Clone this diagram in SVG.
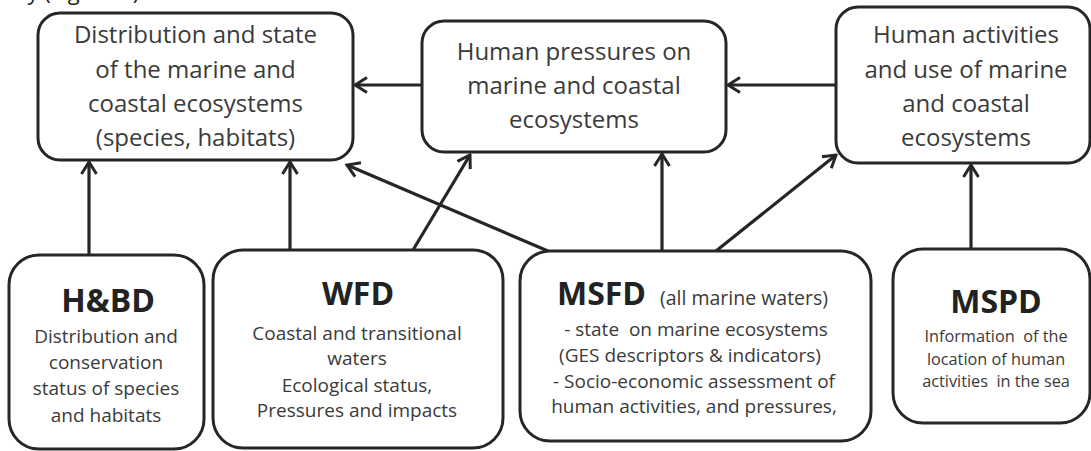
<svg xmlns="http://www.w3.org/2000/svg" width="1091" height="451" viewBox="0 0 1091 451">
  <style>
    .box { fill: #ffffff; stroke: #262626; stroke-width: 3; }
    .link { fill: none; stroke: #262626; stroke-width: 3.2; marker-end: url(#chevron); }
    text { font-family: "Open Sans", Lato, "Liberation Sans", sans-serif; text-anchor: middle; fill: #3a3a3a; white-space: pre; }
    .big { font-size: 24px; }
    .small { font-size: 19px; }
    .tiny { font-size: 16.3px; }
    .head { font-size: 32px; font-weight: bold; fill: #222222; }
  </style>
  <defs>
    <marker id="chevron" markerUnits="userSpaceOnUse" viewBox="0 0 16 18" markerWidth="16" markerHeight="18" refX="14" refY="9" orient="auto">
      <path d="M2,1.5 L14,9 L2,16.5" fill="none" stroke="#262626" stroke-width="3" stroke-linejoin="miter"/>
    </marker>
  </defs>

  <rect width="1091" height="451" fill="#ffffff"/>

  <!-- running text above the figure, mostly cut off by the top edge -->
  <text x="22" y="0" style="text-anchor:start;font-size:22px;fill:#222">ly (Figure 1)</text>

  <g id="connectors">
    <line class="link" x1="422" y1="85" x2="355" y2="85"/>
    <line class="link" x1="836" y1="85" x2="728" y2="85"/>
    <line class="link" x1="89" y1="255" x2="89" y2="162"/>
    <line class="link" x1="290" y1="250" x2="290" y2="162"/>
    <line class="link" x1="413" y1="250" x2="470" y2="155"/>
    <line class="link" x1="548" y1="251" x2="347" y2="165"/>
    <line class="link" x1="662" y1="251" x2="662" y2="154"/>
    <line class="link" x1="716" y1="251" x2="836" y2="155"/>
    <line class="link" x1="971" y1="249" x2="971" y2="165"/>
  </g>

  <g id="state">
    <rect class="box" x="38" y="13" width="315" height="147" rx="22"/>
    <text class="big" x="195.5" y="43">Distribution and state</text>
    <text class="big" x="195.5" y="78">of the marine and</text>
    <text class="big" x="195.5" y="112">coastal ecosystems</text>
    <text class="big" x="195.5" y="146">(species, habitats)</text>
  </g>

  <g id="pressures">
    <rect class="box" x="422" y="21" width="304" height="131" rx="22"/>
    <text class="big" x="574" y="60">Human pressures on</text>
    <text class="big" x="574" y="94">marine and coastal</text>
    <text class="big" x="574" y="128">ecosystems</text>
  </g>

  <g id="activities">
    <rect class="box" x="836" y="7" width="254" height="156" rx="22"/>
    <text class="big" x="966" y="43">Human activities</text>
    <text class="big" x="966" y="78">and use of marine</text>
    <text class="big" x="966" y="112">and coastal</text>
    <text class="big" x="966" y="146">ecosystems</text>
  </g>

  <g id="hbd">
    <rect class="box" x="9" y="255" width="195" height="194" rx="30"/>
    <text class="head" x="108" y="312">H&amp;BD</text>
    <text class="small" x="106" y="343">Distribution and</text>
    <text class="small" x="106" y="369">conservation</text>
    <text class="small" x="106" y="395">status of species</text>
    <text class="small" x="106" y="422">and habitats</text>
  </g>

  <g id="wfd">
    <rect class="box" x="213" y="250" width="290" height="198" rx="30"/>
    <text class="head" x="358" y="305">WFD</text>
    <text class="small" x="357" y="340">Coastal and transitional</text>
    <text class="small" x="357" y="365">waters</text>
    <text class="small" x="357" y="392">Ecological status,</text>
    <text class="small" x="357" y="417">Pressures and impacts</text>
  </g>

  <g id="msfd">
    <rect class="box" x="520" y="251" width="351" height="190" rx="30"/>
    <text class="head" x="557" y="305" style="text-anchor:start">MSFD</text>
    <text x="744" y="305" style="font-size:19.5px">(all marine waters)</text>
    <text class="small" x="696" y="336">- state  on marine ecosystems</text>
    <text class="small" x="690" y="362">(GES descriptors &amp; indicators)</text>
    <text class="small" x="694" y="388">- Socio-economic assessment of</text>
    <text class="small" x="694" y="413">human activities, and pressures,</text>
  </g>

  <g id="mspd">
    <rect class="box" x="893" y="249" width="197" height="174" rx="30"/>
    <text class="head" x="996" y="313">MSPD</text>
    <text class="tiny" x="996" y="342">Information  of the</text>
    <text class="tiny" x="996" y="365">location of human</text>
    <text class="tiny" x="996" y="387">activities  in the sea</text>
  </g>
</svg>
